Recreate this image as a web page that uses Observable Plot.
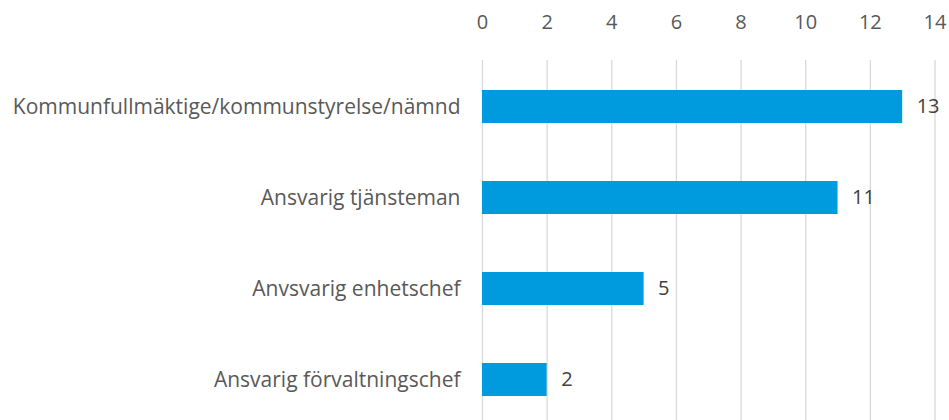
<!DOCTYPE html>
<html><head><meta charset="utf-8">
<script src="https://cdn.jsdelivr.net/npm/d3@7"></script>
<script src="https://cdn.jsdelivr.net/npm/@observablehq/plot@0.6"></script>
<style>body{margin:0;background:#fff;} svg{display:block;}</style>
</head><body><div id="chart"></div>
<script>
const categories = ["Kommunfullmäktige/kommunstyrelse/nämnd","Ansvarig tjänsteman","Anvsvarig enhetschef","Ansvarig förvaltningschef"];
const values = [13, 11, 5, 2];
const xTicks = [0, 2, 4, 6, 8, 10, 12, 14];
const data = categories.map((c, i) => ({category: c, value: values[i]}));

const chart = Plot.plot({
  width: 949, height: 420,
  marginTop: 60, marginBottom: 0, marginLeft: 482, marginRight: 14.5,
  style: {fontFamily: "Open Sans", fontSize: "20px", color: "#595959", background: "#fff"},
  x: {domain: [0, 14], ticks: xTicks, axis: null},
  y: {domain: categories, range: [59, 426], paddingInner: 0.64, paddingOuter: 0.32, axis: null},
  marks: [
    Plot.gridX(xTicks, {stroke: "#d9d9d9", strokeOpacity: 1, strokeWidth: 1.3}),
    Plot.axisX(xTicks, {anchor: "top", tickSize: 0, tickPadding: 0, dy: -32, fill: "#595959", fontSize: 20, label: null}),
    Plot.barX(data, {x: "value", y: "category", fill: "#009ADE"}),
    Plot.text(data, {x: "value", y: "category", text: d => String(d.value), textAnchor: "start", dx: 14, fill: "#404040", fontSize: 20}),
    Plot.text(data, {x: 0, y: "category", text: "category", textAnchor: "end", dx: -22, fill: "#595959", fontSize: 21})
  ]
});
document.getElementById("chart").appendChild(chart);
</script></body></html>
